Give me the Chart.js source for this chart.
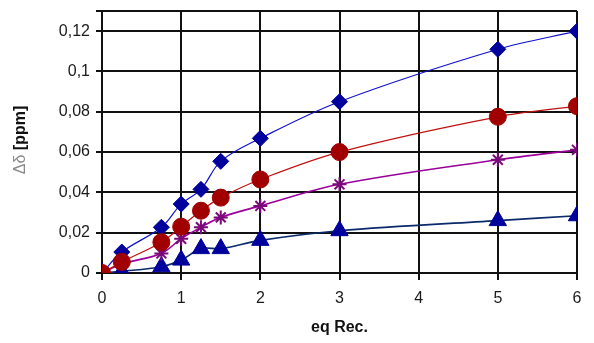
<!DOCTYPE html>
<html>
<head>
<meta charset="utf-8">
<script src="https://cdn.jsdelivr.net/npm/chart.js"></script>
<style>
  *{margin:0;padding:0;box-sizing:border-box}
  body{background:#fff;width:594px;height:343px;overflow:hidden}
  .wrap{position:relative;width:594px;height:343px}
</style>
</head>
<body>
<div class="wrap"><canvas id="c" width="594" height="343"></canvas></div>
<script>
// eq Rec. values
const EQ = [0, 0.25, 0.75, 1, 1.25, 1.5, 2, 3, 5, 6];
// Δδ [ppm] per series
const DIAMOND = [0, 0.0104, 0.0227, 0.0342, 0.0415, 0.0554, 0.0668, 0.085, 0.111, 0.120];
const CIRCLE = [0, 0.0055, 0.0153, 0.0230, 0.0309, 0.0374, 0.0464, 0.060, 0.0775, 0.0828];
const STAR = [0, 0.0045, 0.0097, 0.0170, 0.0227, 0.0276, 0.0333, 0.044, 0.0562, 0.0611];
const TRIANGLE = [0, 0.0008, 0.0031, 0.0064, 0.0121, 0.0121, 0.0162, 0.021, 0.026, 0.0284];

const Y_TICKS = [0, 0.02, 0.04, 0.06, 0.08, 0.1, 0.12];
const Y_MAX = 0.13;
const X_TICKS = [0, 1, 2, 3, 4, 5, 6];

const pts = ys => EQ.map((x, i) => ({ x, y: ys[i] }));
const FONT = "'Liberation Sans', Arial, sans-serif";

const axisTitles = {
  id: "axisTitles",
  afterDraw(chart) {
    const { ctx, chartArea: a } = chart;
    ctx.save();
    ctx.fillStyle = "#111";
    ctx.font = "bold 16px " + FONT;
    ctx.textAlign = "center";
    ctx.textBaseline = "middle";
    ctx.fillText("eq Rec.", (a.left + a.right) / 2, 328);

    // rotated y title: gray "Δδ" then bold "[ppm]"
    ctx.translate(21, 140);
    ctx.rotate(-Math.PI / 2);
    ctx.textAlign = "left";
    const p1 = "Δδ ", p2 = "[ppm]";
    ctx.font = "16px " + FONT;
    const w1 = ctx.measureText(p1).width;
    ctx.font = "bold 16px " + FONT;
    const w2 = ctx.measureText(p2).width;
    const start = -(w1 + w2) / 2;
    ctx.font = "16px " + FONT;
    ctx.fillStyle = "#8a8a8a";
    ctx.fillText(p1, start, 0);
    ctx.font = "bold 16px " + FONT;
    ctx.fillStyle = "#111";
    ctx.fillText(p2, start + w1, 0);
    ctx.restore();
  }
};

new Chart(document.getElementById("c"), {
  type: "line",
  data: {
    datasets: [
      { label: "diamond", data: pts(DIAMOND), borderColor: "#1010cc", backgroundColor: "#00009c",
        pointStyle: "rectRot", pointRadius: 8, pointBorderColor: "#00009c", pointBorderWidth: 1, borderWidth: 1.2, order: 3 },
      { label: "star", data: pts(STAR), borderColor: "#990099", backgroundColor: "#990099",
        pointStyle: "star", pointRadius: 7, pointBorderColor: "#7a0a7a", pointBorderWidth: 2, borderWidth: 1.6, order: 2 },
      { label: "triangle", data: pts(TRIANGLE), borderColor: "#0a2a6a", backgroundColor: "#00009c",
        pointStyle: "triangle", pointRadius: 10, pointBorderColor: "#00009c", pointBorderWidth: 1, borderWidth: 1.6, order: 4 },
      { label: "circle", data: pts(CIRCLE), borderColor: "#c01010", backgroundColor: "#a00000",
        pointStyle: "circle", pointRadius: 8.5, pointBorderColor: "#a00000", pointBorderWidth: 1, borderWidth: 1.2, order: 1 },
    ]
  },
  options: {
    responsive: false, animation: false,
    layout: { padding: { left: 0, right: 17, top: 5, bottom: 0 } },
    elements: { line: { tension: 0.35, fill: false } },
    plugins: { legend: { display: false }, tooltip: { enabled: false } },
    scales: {
      x: {
        type: "linear", min: 0, max: 6,
        afterBuildTicks: s => { s.ticks = X_TICKS.map(v => ({ value: v })); },
        afterFit: s => { s.height = 70; s.paddingLeft = 0; s.paddingRight = 0; },
        grid: { color: "#111", lineWidth: 2, tickLength: 7, drawTicks: true },
        border: { color: "#111", width: 2 },
        ticks: { color: "#1a1a1a", font: { family: FONT, size: 16 }, padding: 9, maxRotation: 0, callback: v => String(v) }
      },
      y: {
        type: "linear", min: 0, max: Y_MAX,
        afterBuildTicks: s => { s.ticks = Y_TICKS.concat([Y_MAX]).map(v => ({ value: v })); },
        afterFit: s => { s.width = 102; s.paddingTop = 0; s.paddingBottom = 0; },
        grid: { color: "#111", lineWidth: 2, tickLength: 6 },
        border: { color: "#111", width: 2 },
        ticks: { color: "#1a1a1a", font: { family: FONT, size: 16 }, padding: 6,
          callback: v => Y_TICKS.includes(v) ? String(v).replace(".", ",") : "" }
      }
    }
  },
  plugins: [axisTitles]
});
</script>
</body>
</html>
